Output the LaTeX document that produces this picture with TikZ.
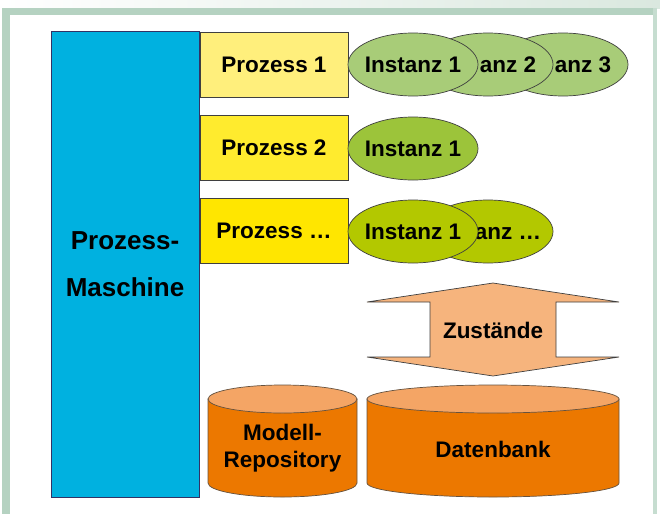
\documentclass[tikz,border=0pt]{standalone}
\usepackage{fontspec}
\setmainfont{Liberation Sans}
\usetikzlibrary{shapes.geometric}

\definecolor{frameGreen}{HTML}{B5D2C1}
\definecolor{frameLight}{HTML}{DAE8DF}
\definecolor{frameRight}{HTML}{C6DDD0}
\definecolor{machineBlue}{HTML}{00B1E0}
\definecolor{procA}{HTML}{FFEF7C}
\definecolor{procB}{HTML}{FFEB2E}
\definecolor{procC}{HTML}{FFE600}
\definecolor{instA}{HTML}{A8CC78}
\definecolor{instB}{HTML}{9CC43A}
\definecolor{instC}{HTML}{B3C800}
\definecolor{stateFill}{HTML}{F6B47D}
\definecolor{cylTop}{HTML}{F4A565}
\definecolor{cylBody}{HTML}{EC7800}
\definecolor{edgeGray}{HTML}{3F3F3F}

\tikzset{
  lbl/.style={font=\bfseries\fontsize{22.5}{27}\selectfont, text=black},
  machine/.style={draw=edgeGray!80!blue, line width=0.9pt, fill=machineBlue,
    minimum width=148pt, minimum height=466pt, inner sep=0pt, align=center,
    font=\bfseries\fontsize{26}{47}\selectfont},
  procbox/.style={lbl, draw=edgeGray, line width=0.7pt, minimum width=148pt,
    minimum height=65pt, inner sep=0pt},
  inst/.style={lbl, ellipse, draw=edgeGray, line width=0.7pt, minimum width=130pt,
    minimum height=63pt, inner sep=0pt},
  statearrow/.style={draw=edgeGray, line width=0.7pt, fill=stateFill},
  cylbodystyle/.style={draw=edgeGray!70!brown, line width=0.7pt, fill=cylBody},
  cyltopstyle/.style={draw=edgeGray!70!brown, line width=0.7pt, fill=cylTop},
}

\begin{document}
\begin{tikzpicture}[x=1pt, y=-1pt]
\useasboundingbox (0,0) rectangle (660,514);

% slide frame
\shade[left color=white, right color=frameLight] (0,0) rectangle (660,8);
\fill[frameGreen] (2,8) rectangle (653,15);
\fill[frameGreen] (2,8) rectangle (10,514);
\fill[frameRight] (653,8) rectangle (657,514);

% process engine
\node[machine] (pm) at (125,264) {Prozess-\\Maschine};

% processes
\node[procbox, fill=procA] (p1) at (274,64.5) {Prozess 1};
\node[procbox, fill=procB] (p2) at (274,147.5) {Prozess 2};
\node[procbox, fill=procC] (p3) at (274,230.5) {Prozess …};

% instances, stacked: only the tail of a covered label stays visible
\node[inst, fill=instA] (i13) at (563,64.5) {\makebox[0pt]{\phantom{Inst}anz 3}};
\node[inst, fill=instA] (i12) at (488,64.5) {\makebox[0pt]{\phantom{Inst}anz 2}};
\node[inst, fill=instA] (i11) at (413,64.5) {\makebox[0pt]{Instanz 1}};

\node[inst, fill=instB] (i21) at (413,148.5) {\makebox[0pt]{Instanz 1}};

\node[inst, fill=instC] (i32) at (488,231.5) {\makebox[0pt]{\phantom{Inst}anz …}};
\node[inst, fill=instC] (i31) at (413,231.5) {\makebox[0pt]{Instanz 1}};

% state exchange arrow
\path[statearrow] (493,283) -- (619,302) -- (556,302) -- (556,357) -- (619,357)
  -- (493,376) -- (367,357) -- (430,357) -- (430,302) -- (367,302) -- cycle;
\node[lbl] (zust) at (493,330) {Zustände};

% model repository cylinder
\path[cylbodystyle] (208,399) -- (208,483)
  arc[start angle=180, end angle=360, x radius=74.5pt, y radius=14pt]
  -- (357,399) -- cycle;
\path[cyltopstyle] (282.5,399) ellipse [x radius=74.5pt, y radius=14pt];
\node[lbl, align=center] (repo) at (282.5,448) {Modell-\\Repository};

% database cylinder
\path[cylbodystyle] (367,399) -- (367,483)
  arc[start angle=180, end angle=360, x radius=126pt, y radius=14pt]
  -- (619,399) -- cycle;
\path[cyltopstyle] (493,399) ellipse [x radius=126pt, y radius=14pt];
\node[lbl] (db) at (493,449) {Datenbank};
\end{tikzpicture}
\end{document}
